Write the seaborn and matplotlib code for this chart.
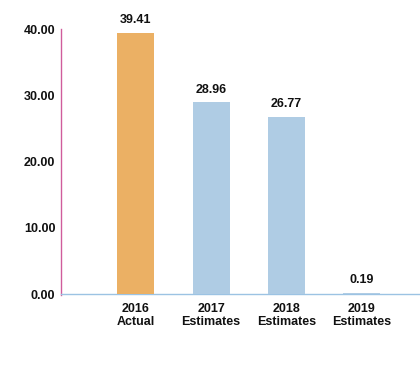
import matplotlib
matplotlib.use("Agg")
import matplotlib.pyplot as plt
import seaborn as sns
import pandas as pd

# data
categories = ["2016\nActual", "2017\nEstimates", "2018\nEstimates", "2019\nEstimates"]
values = [39.41, 28.96, 26.77, 0.19]
bar_colors = ["#EBB064", "#AFCCE4", "#AFCCE4", "#AFCCE4"]
y_ticks = [0, 10, 20, 30, 40]

sns.set_style("white")
plt.rcParams["font.family"] = ["Liberation Sans", "DejaVu Sans"]
plt.rcParams["font.weight"] = "bold"

df = pd.DataFrame({"cat": categories, "val": values})

fig = plt.figure(figsize=(4.2, 3.65), dpi=100)
ax = fig.add_axes([0.145, 0.192, 0.855, 0.7285])

sns.barplot(data=df, x="cat", y="val", hue="cat", palette=bar_colors,
            width=0.49, legend=False, ax=ax, saturation=1)
for p in ax.patches:
    p.set_zorder(5)
    p.set_edgecolor("none")

for i, v in enumerate(values):
    ax.text(i, v + 1.0, f"{v:.2f}", ha="center", va="bottom",
            fontsize=9, fontweight="bold", color="#111111")

ax.set_xlim(-0.99, 3.77)
ax.set_ylim(-0.1, 40)
ax.set_yticks(y_ticks)
ax.set_yticklabels([f"{t:.2f}" for t in y_ticks], fontweight="bold")
ax.set_xticks(range(len(categories)))
ax.set_xticklabels(categories, fontweight="bold")
ax.set_xlabel("")
ax.set_ylabel("")
ax.tick_params(axis="both", length=0, labelsize=9, colors="#111111")
ax.tick_params(axis="y", pad=4)
ax.tick_params(axis="x", pad=6)

for s in ["top", "right"]:
    ax.spines[s].set_visible(False)
ax.spines["left"].set_color("#D05C9C")
ax.spines["left"].set_linewidth(1.0)
ax.spines["bottom"].set_color("#9CC3E3")
ax.spines["bottom"].set_linewidth(1.0)
ax.spines["bottom"].set_position(("data", 0))

fig.savefig("out.png", dpi=100)
